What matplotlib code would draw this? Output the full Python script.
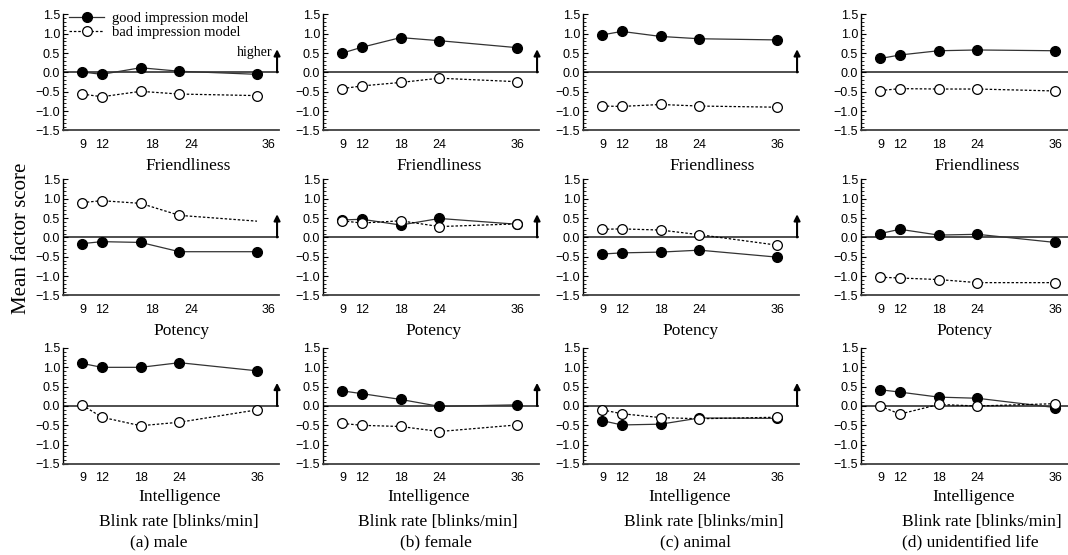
import numpy as np
import matplotlib.pyplot as plt
from matplotlib.ticker import MultipleLocator

blink = [9, 12, 18, 24, 36]
factors = ['Friendliness', 'Potency', 'Intelligence']
subjects = ['(a) male', '(b) female', '(c) animal', '(d) unidentified life']
yticks = [-1.5, -1.0, -0.5, 0.0, 0.5, 1.0, 1.5]
ytick_labels = ['\u22121.5', '\u22121.0', '\u22120.5', '0.0', '0.5', '1.0', '1.5']
xtick_labels = ['9', '12', '18', '24', '36']

# Friendliness
good_male_fr = [0.01, -0.05, 0.12, 0.03, -0.05]
bad_male_fr = [-0.56, -0.63, -0.49, -0.56, -0.60]
good_female_fr = [0.50, 0.65, 0.90, 0.82, 0.64]
bad_female_fr = [-0.42, -0.35, -0.26, -0.15, -0.24]
good_animal_fr = [0.97, 1.06, 0.93, 0.87, 0.84]
bad_animal_fr = [-0.87, -0.88, -0.83, -0.87, -0.90]
good_ufo_fr = [0.36, 0.45, 0.56, 0.58, 0.56]
bad_ufo_fr = [-0.47, -0.42, -0.43, -0.43, -0.48]

# Potency
good_male_po = [-0.16, -0.11, -0.13, -0.37, -0.37]
bad_male_po = [0.90, 0.95, 0.88, 0.57, 0.42]
good_female_po = [0.45, 0.47, 0.32, 0.49, 0.34]
bad_female_po = [0.43, 0.37, 0.43, 0.28, 0.35]
good_animal_po = [-0.43, -0.40, -0.38, -0.33, -0.51]
bad_animal_po = [0.21, 0.22, 0.19, 0.07, -0.20]
good_ufo_po = [0.10, 0.21, 0.06, 0.08, -0.13]
bad_ufo_po = [-1.03, -1.05, -1.09, -1.17, -1.17]

# Intelligence
good_male_in = [1.10, 1.00, 1.00, 1.12, 0.91]
bad_male_in = [0.02, -0.29, -0.51, -0.42, -0.10]
good_female_in = [0.39, 0.32, 0.17, -0.01, 0.03]
bad_female_in = [-0.45, -0.50, -0.53, -0.66, -0.49]
good_animal_in = [-0.38, -0.49, -0.47, -0.31, -0.32]
bad_animal_in = [-0.10, -0.20, -0.30, -0.33, -0.29]
good_ufo_in = [0.42, 0.36, 0.23, 0.20, -0.04]
bad_ufo_in = [0.00, -0.21, 0.04, 0.00, 0.06]

good = [[good_male_fr, good_female_fr, good_animal_fr, good_ufo_fr],
        [good_male_po, good_female_po, good_animal_po, good_ufo_po],
        [good_male_in, good_female_in, good_animal_in, good_ufo_in]]
bad = [[bad_male_fr, bad_female_fr, bad_animal_fr, bad_ufo_fr],
       [bad_male_po, bad_female_po, bad_animal_po, bad_ufo_po],
       [bad_male_in, bad_female_in, bad_animal_in, bad_ufo_in]]

W, H = 1068, 555
fig = plt.figure(figsize=(W / 100, H / 100), dpi=100)

sans = 'Liberation Sans'
serif = 'Liberation Serif'

col_left = [63, 323, 583, 861]
row_top = [14.4, 179.4, 348]
aw, ah = 216, 116

# label centres (axes fraction) measured per panel
xlab_x = [[0.58, 0.54, 0.60, 0.54],
          [0.55, 0.51, 0.50, 0.48],
          [0.54, 0.49, 0.495, 0.52]]
# the original misplaces the tick labels of the first column (rows 1-2)
shifted_ticks = [9, 12, 19.8, 25.9, 37.7]

for r in range(3):
    for c in range(4):
        ax = fig.add_axes([col_left[c] / W, 1 - (row_top[r] + ah) / H, aw / W, ah / H])
        ax.set_xlim(6, 39.4)
        ax.set_ylim(-1.5, 1.5)
        ax.axhline(0, color='#404040', lw=1.3, zorder=1)

        ax.plot(blink, good[r][c], '-', color='#333333', lw=0.9,
                marker='o', ms=7, mfc='black', mec='black', zorder=3,
                label='good impression model')
        mk = [0, 1, 2, 3] if (r == 1 and c == 0) else None
        ax.plot(blink, bad[r][c], linestyle=(0, (2, 1.5)), color='black', lw=0.9,
                marker='o', ms=7, mfc='white', mec='black', mew=0.9, zorder=4,
                markevery=mk, label='bad impression model')

        for s in ['top', 'right']:
            ax.spines[s].set_visible(False)
        ax.spines['left'].set_linewidth(1.0)
        ax.spines['bottom'].set_linewidth(1.3)
        ax.spines['bottom'].set_color('#404040')

        ax.set_yticks(yticks)
        ax.set_yticklabels(ytick_labels, fontfamily=sans, fontsize=9)
        ax.yaxis.set_minor_locator(MultipleLocator(0.1))
        ax.tick_params(axis='y', which='major', direction='in', length=3.5, width=0.8, pad=2)
        ax.tick_params(axis='y', which='minor', direction='in', length=2, width=0.6)

        if c == 0 and r < 2:
            ax.set_xticks(shifted_ticks)
        else:
            ax.set_xticks(blink)
        ax.set_xticklabels(xtick_labels, fontfamily=sans, fontsize=9)
        ax.tick_params(axis='x', length=0, pad=6)

        yoff = -0.31 if r < 2 else -0.285
        ax.text(xlab_x[r][c], yoff, factors[r], transform=ax.transAxes,
                ha='center', va='center', fontfamily=serif, fontsize=12.5)

        if c < 3:
            ax.annotate('', xy=(39.1, 0.6), xytext=(39.1, 0),
                        arrowprops=dict(arrowstyle='-|>', lw=1.5, color='black',
                                        mutation_scale=9, shrinkA=0, shrinkB=0),
                        annotation_clip=False)

        if r == 0 and c == 0:
            ax.text(38.4, 0.52, 'higher', ha='right', va='center',
                    fontfamily=serif, fontsize=10)
            ax.legend(loc='upper left', bbox_to_anchor=(0.03, 1.02), frameon=False,
                      prop={'family': serif, 'size': 10.5}, handlelength=2.4,
                      handletextpad=0.5, labelspacing=0.05, borderpad=0,
                      borderaxespad=0)

blink_x = [179, 438, 704, 982]
subj_x = [159, 436, 695, 970]
for c in range(4):
    fig.text(blink_x[c] / W, 1 - 522 / H, 'Blink rate [blinks/min]', ha='center',
             va='center', fontfamily=serif, fontsize=12.5)
    fig.text(subj_x[c] / W, 1 - 542 / H, subjects[c], ha='center',
             va='center', fontfamily=serif, fontsize=12.5)

fig.text(22 / W, 1 - 238 / H, 'Mean factor score', rotation=90, ha='center',
         va='center', fontfamily=serif, fontsize=15)

fig.savefig('out.png', dpi=100)
